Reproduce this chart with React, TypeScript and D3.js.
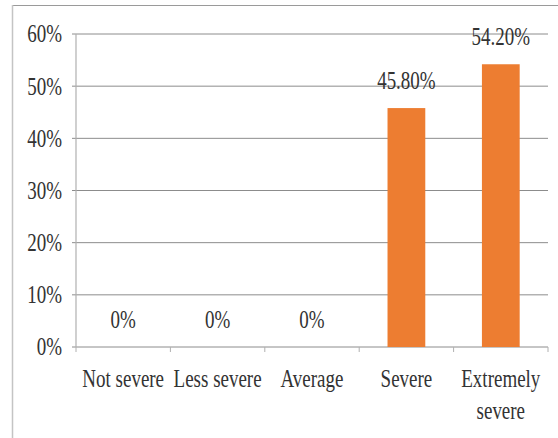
import React from "react";
import * as d3 from "d3";

const categories = ["Not severe", "Less severe", "Average", "Severe", "Extremely severe"];
const values = [0, 0, 0, 45.8, 54.2];
const valueLabels = ["0%", "0%", "0%", "45.80%", "54.20%"];
const yTicks = [0, 10, 20, 30, 40, 50, 60];

const W = 558;
const H = 438;
const FONT = '"Liberation Serif", "Times New Roman", "DejaVu Serif", serif';
const FS = 19;
const SY = 1.3;

function measure(text: string): number {
  const c = document.createElement("canvas").getContext("2d");
  if (!c) return text.length * FS * 0.45;
  c.font = `${FS}px "Liberation Serif"`;
  return c.measureText(text).width;
}

function wrap(text: string, maxW: number): string[] {
  const words = text.split(" ");
  const lines: string[] = [];
  let cur = "";
  for (const w of words) {
    const t = cur ? cur + " " + w : w;
    if (cur && measure(t) > maxW) {
      lines.push(cur);
      cur = w;
    } else cur = t;
  }
  if (cur) lines.push(cur);
  return lines;
}

export default function App() {
  const left = 76, right = 548, top = 34, bottom = 347;
  const x = d3.scaleBand<string>().domain(categories).range([left, right]).paddingInner(0.6).paddingOuter(0.3);
  const band = d3.scaleBand<string>().domain(categories).range([left, right]);
  const y = d3.scaleLinear().domain([0, 60]).range([bottom, top]);
  const textColor = "#333333";
  const gridColor = "#8c8c8c";
  const ts: React.CSSProperties = { fontFamily: FONT, fontSize: FS };

  const T = (tx: number, ty: number) => `translate(${tx},${ty}) scale(1,${SY})`;

  return (
    <svg width={W} height={H} style={{ position: "absolute", left: 0, top: 0, background: "#fff" }}>
      <rect x={0} y={0} width={W} height={H} fill="#fff" />
      {/* outer border */}
      <line x1={12} x2={W} y1={5.5} y2={5.5} stroke="#9a9a9a" strokeWidth={1.2} />
      <line x1={12.5} x2={12.5} y1={5} y2={H} stroke="#c4c4c4" strokeWidth={1.5} />
      {/* gridlines */}
      {yTicks.map((t) => (
        <line key={t} x1={left - 4} x2={right} y1={y(t)} y2={y(t)} stroke={gridColor} strokeWidth={1} />
      ))}
      {/* y axis */}
      <line x1={left} x2={left} y1={top} y2={bottom} stroke="#b0b0b0" strokeWidth={1.2} />
      {/* x ticks */}
      {[...categories.map((c) => band(c)!), right].map((bx, i) => (
        <line key={i} x1={bx} x2={bx} y1={bottom} y2={bottom + 5} stroke="#b0b0b0" strokeWidth={1} />
      ))}
      {/* y tick labels */}
      {yTicks.map((t) => (
        <text key={t} transform={T(62, y(t))} textAnchor="end" dominantBaseline="central" style={ts} fill={textColor}>
          {t}%
        </text>
      ))}
      {/* bars */}
      {categories.map((c, i) => (
        <rect key={c} x={x(c)!} y={y(values[i])} width={x.bandwidth()} height={bottom - y(values[i])} fill="#ED7D31" />
      ))}
      {/* data labels */}
      {categories.map((c, i) => (
        <text key={c} transform={T(x(c)! + x.bandwidth() / 2, y(values[i]) - 19)} textAnchor="middle" style={ts} fill={textColor}>
          {valueLabels[i]}
        </text>
      ))}
      {/* category labels */}
      {categories.map((c) => {
        const lines = wrap(c, band.bandwidth());
        const cx = band(c)! + band.bandwidth() / 2;
        return lines.map((l, j) => (
          <text key={c + j} transform={T(cx, 387 + j * 32)} textAnchor="middle" style={ts} fill={textColor}>
            {l}
          </text>
        ));
      })}
    </svg>
  );
}
